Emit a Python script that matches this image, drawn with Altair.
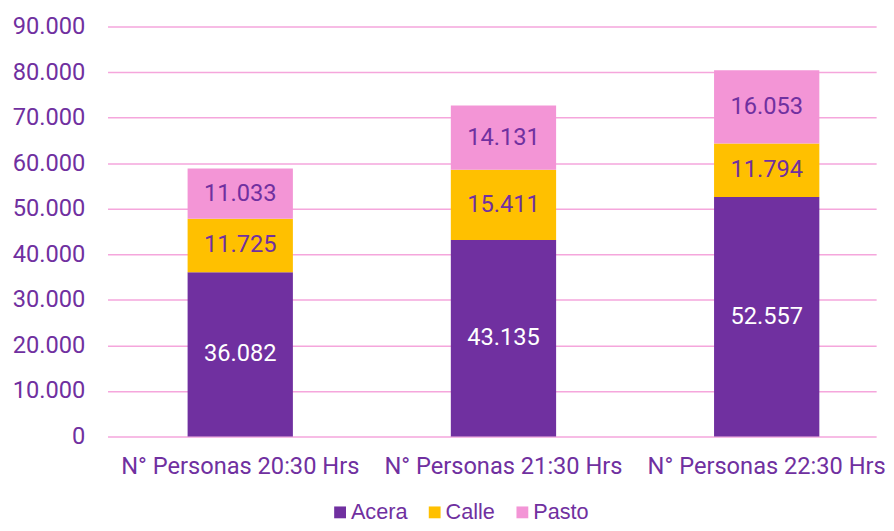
import altair as alt
import pandas as pd

categories = ["N° Personas 20:30 Hrs", "N° Personas 21:30 Hrs", "N° Personas 22:30 Hrs"]
series = ["Acera", "Calle", "Pasto"]
acera = [36082, 43135, 52557]
calle = [11725, 15411, 11794]
pasto = [11033, 14131, 16053]

rows = []
for i, c in enumerate(categories):
    for j, (s, vals) in enumerate(zip(series, [acera, calle, pasto])):
        rows.append({"cat": c, "serie": s, "valor": vals[i], "ord": j})
df = pd.DataFrame(rows)

purple = "#7030a0"
colors = ["#7030a0", "#ffc000", "#f395d6"]
font = "Roboto"

base = alt.Chart(df).transform_stack(
    stack="valor", groupby=["cat"], as_=["y0", "y1"], sort=[alt.SortField("ord")]
).transform_calculate(
    mid="(datum.y0 + datum.y1) / 2",
    lbl="replace(format(datum.valor, ','), ',', '.')",
)

xscale = alt.Scale(paddingInner=0.6, paddingOuter=0.26, align=0.585)

xenc = alt.X("cat:N", sort=categories, title=None, scale=xscale,
             axis=alt.Axis(labelAngle=0, labelFontSize=24, labelColor=purple, labelFont=font,
                           ticks=False, domain=False, labelPadding=19, labelLimit=400))

bars = base.mark_bar().encode(
    x=xenc,
    y=alt.Y("y0:Q", title=None,
            scale=alt.Scale(domain=[0, 90000], nice=False),
            axis=alt.Axis(values=list(range(0, 90001, 10000)), labelFontSize=24, labelColor=purple,
                          labelFont=font, ticks=False, domain=False,
                          gridColor="#f5a6dc", gridWidth=1.5, labelPadding=23,
                          labelExpr="replace(format(datum.value, ','), ',', '.')")),
    y2="y1:Q",
    color=alt.Color("serie:N", sort=series, title=None,
                    scale=alt.Scale(domain=series, range=colors),
                    legend=alt.Legend(orient="none", legendX=225, legendY=482, direction="horizontal",
                                      symbolType="square",
                                      labelFontSize=22, labelColor=purple, labelFont="Liberation Sans",
                                      symbolSize=144, columnPadding=16, symbolStrokeWidth=0,
                                      labelOffset=0)),
)

texts = base.mark_text(fontSize=24, font=font).encode(
    x=alt.X("cat:N", sort=categories),
    y=alt.Y("mid:Q"),
    text="lbl:N",
    color=alt.condition(alt.datum.serie == "Acera", alt.value("white"), alt.value(purple)),
)

chart = alt.layer(bars, texts).properties(
    width=780, height=416, padding={"left": 4, "top": 3, "right": 0, "bottom": 0}
).configure_view(stroke=None)

chart.save("out.html", embed_options={"renderer": "svg", "actions": False})
